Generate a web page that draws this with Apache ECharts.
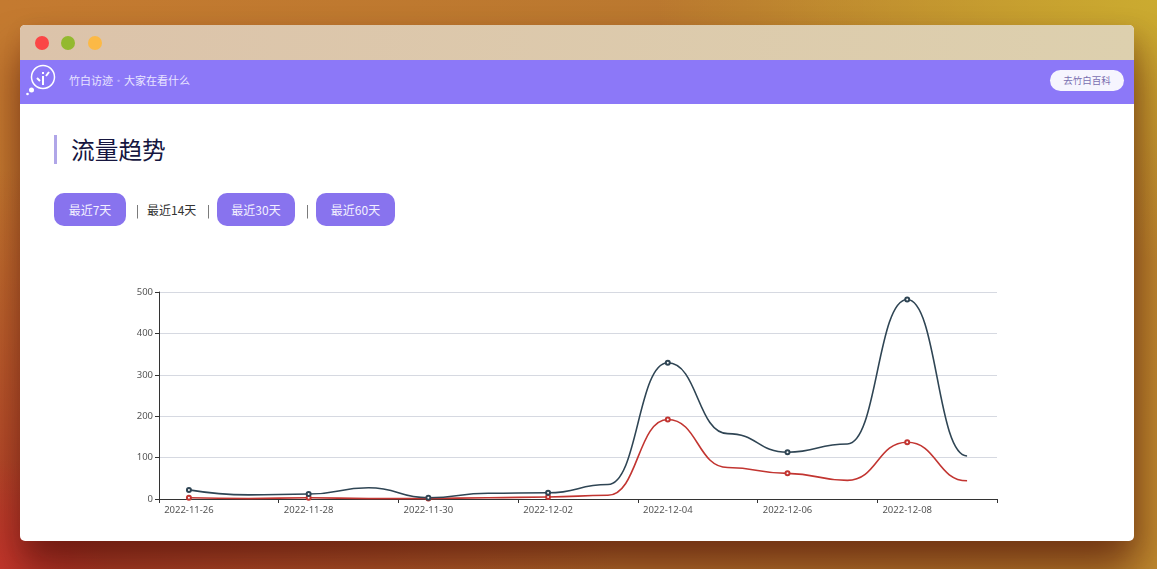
<!DOCTYPE html>
<html>
<head>
<meta charset="utf-8">
<title>流量趋势</title>
<script src="https://cdn.jsdelivr.net/npm/echarts@6/dist/echarts.min.js"></script>
<style>
html,body{margin:0;padding:0;width:1157px;height:569px;overflow:hidden;font-family:"Noto Sans CJK SC","Noto Sans",sans-serif;}
body{position:relative;background:
 radial-gradient(ellipse 110px 110px at 0% 100%,#c4372c 0%,rgba(196,55,44,0) 100%),
 radial-gradient(ellipse 500px 260px at 100% 0%,#cbab30 0%,rgba(203,171,48,0) 100%),
 radial-gradient(ellipse 620px 400px at 0% 100%,#b03a28 0%,rgba(176,58,40,0) 100%),
 linear-gradient(100deg,#c47a30 0%,#b9782f 60%,#bd882e 100%);}
#win{position:absolute;left:20px;top:25px;width:1114px;height:516px;background:#fff;border-radius:5px;overflow:hidden;box-shadow:0 30px 40px rgba(70,5,5,.55),6px 8px 22px rgba(70,20,0,.18);}
#bar{position:absolute;left:0;top:0;width:100%;height:35px;background:linear-gradient(90deg,#dcc3aa,#ddd0ae);}
.dot{position:absolute;top:11px;width:14px;height:14px;border-radius:50%;}
#nav{position:absolute;left:0;top:35px;width:100%;height:44px;background:#8c78f8;color:#e9e5ff;font-size:11px;line-height:41px;}
#nav .t{position:absolute;white-space:nowrap;}
#logo{position:absolute;left:6px;top:4px;}
#go{position:absolute;left:1030px;top:10px;width:74px;height:21px;border-radius:11px;background:#f6f5fe;color:#7a70b0;font-size:9.5px;line-height:21px;text-align:center;}
#title{position:absolute;left:34px;top:110px;height:29px;border-left:3px solid #b0a6e8;padding-left:14px;font-size:23.7px;line-height:28px;color:#16163f;}
.btn{position:absolute;top:168px;height:33px;line-height:33px;border-radius:10px;background:#8873ee;color:#f3f0ff;font-size:12px;text-align:center;}
.plain{position:absolute;top:168px;height:33px;line-height:33px;font-size:12px;color:#333;white-space:nowrap;}
.sep{color:#555;will-change:transform;}
#chart{position:absolute;left:0;top:240px;width:1114px;height:276px;}
</style>
</head>
<body>
<div id="win">
	<div id="bar">
		<div class="dot" style="left:15px;background:#fb4646"></div>
		<div class="dot" style="left:41px;background:#93b92f"></div>
		<div class="dot" style="left:68px;background:#fcb945"></div>
	</div>
	<div id="nav">
		<svg id="logo" width="32" height="34" viewBox="0 0 32 34">
			<circle cx="17" cy="13" r="11.5" fill="none" stroke="#fff" stroke-width="1.5"/>
			<path d="M17 8v2M17 12v9M11 14l3 3M23 8l-3 4" stroke="#fff" stroke-width="2" fill="none"/>
			<circle cx="5.5" cy="26" r="2.5" fill="#fff"/><circle cx="1.5" cy="30" r="1.3" fill="#fff"/>
		</svg>
		<span class="t" style="left:49px">竹白访迹</span>
		<span class="t" style="left:93px;opacity:.5">·</span>
		<span class="t" style="left:104px">大家在看什么</span>
		<div id="go">去竹白百科</div>
	</div>
	<div id="title">流量趋势</div>
	<div class="btn" style="left:34px;width:72px">最近7天</div>
	<div class="plain sep" style="left:116px">|</div>
	<div class="plain" style="left:127px">最近14天</div>
	<div class="plain sep" style="left:187px">|</div>
	<div class="btn" style="left:197px;width:78px">最近30天</div>
	<div class="plain sep" style="left:286px">|</div>
	<div class="btn" style="left:296px;width:79px">最近60天</div>
	<div id="chart"></div>
</div>
<script>
//横轴日期
var days=['2022-11-26','2022-11-27','2022-11-28','2022-11-29','2022-11-30','2022-12-01','2022-12-02',
'2022-12-03','2022-12-04','2022-12-05','2022-12-06','2022-12-07','2022-12-08','2022-12-09'];
//两条曲线，从图上读的估计值
var redValues=[3,1,3,1,1,3,5,9,192,76,62,45,137,44];
var darkValues=[22,10,12,27,3,14,15,35,329,158,113,133,482,104];
var yTicks={min:0,max:500,interval:100};

//末尾多放一个几乎重合的点，这样曲线在终点是水平收尾的（完全相同的点会被echarts忽略）
function toPairs(values)
{
	var pairs=values.map(function(v,i){ return [i,v]; });
	pairs.push([values.length-1,values[values.length-1]+0.001]);
	return pairs;
}

var myChart=echarts.init(document.getElementById('chart'));
var lineOpts={type:'line',smooth:true,smoothMonotone:'x',symbol:'emptyCircle',symbolSize:4,showAllSymbol:false,
	lineStyle:{width:1.6},itemStyle:{borderWidth:0.5}};
var option={
	animation:false,
	color:['#c23531','#2f4554'],
	grid:{left:139,right:137,top:27,bottom:42,containLabel:false},
	tooltip:{trigger:'axis'},
	xAxis:{
		type:'category',
		data:days,
		boundaryGap:true,
		axisLine:{lineStyle:{color:'#333',width:1}},
		axisTick:{show:true,length:4,alignWithLabel:false,interval:1,lineStyle:{color:'#333'}},
		axisLabel:{interval:1,fontSize:9.5,color:'#555',margin:6,fontFamily:'"Noto Sans",sans-serif'}
	},
	yAxis:{
		type:'value',
		min:yTicks.min,
		max:yTicks.max,
		interval:yTicks.interval,
		axisLine:{show:true,lineStyle:{color:'#333',width:1}},
		axisTick:{show:true,length:4,lineStyle:{color:'#333'}},
		axisLabel:{fontSize:9.5,color:'#555',margin:6,fontFamily:'"Noto Sans",sans-serif'},
		splitLine:{show:true,lineStyle:{color:'#d6d9e1',width:1}}
	},
	series:[
		Object.assign({data:toPairs(redValues)},lineOpts),
		Object.assign({data:toPairs(darkValues)},lineOpts)
	]
};
myChart.setOption(option);
</script>
</body>
</html>
